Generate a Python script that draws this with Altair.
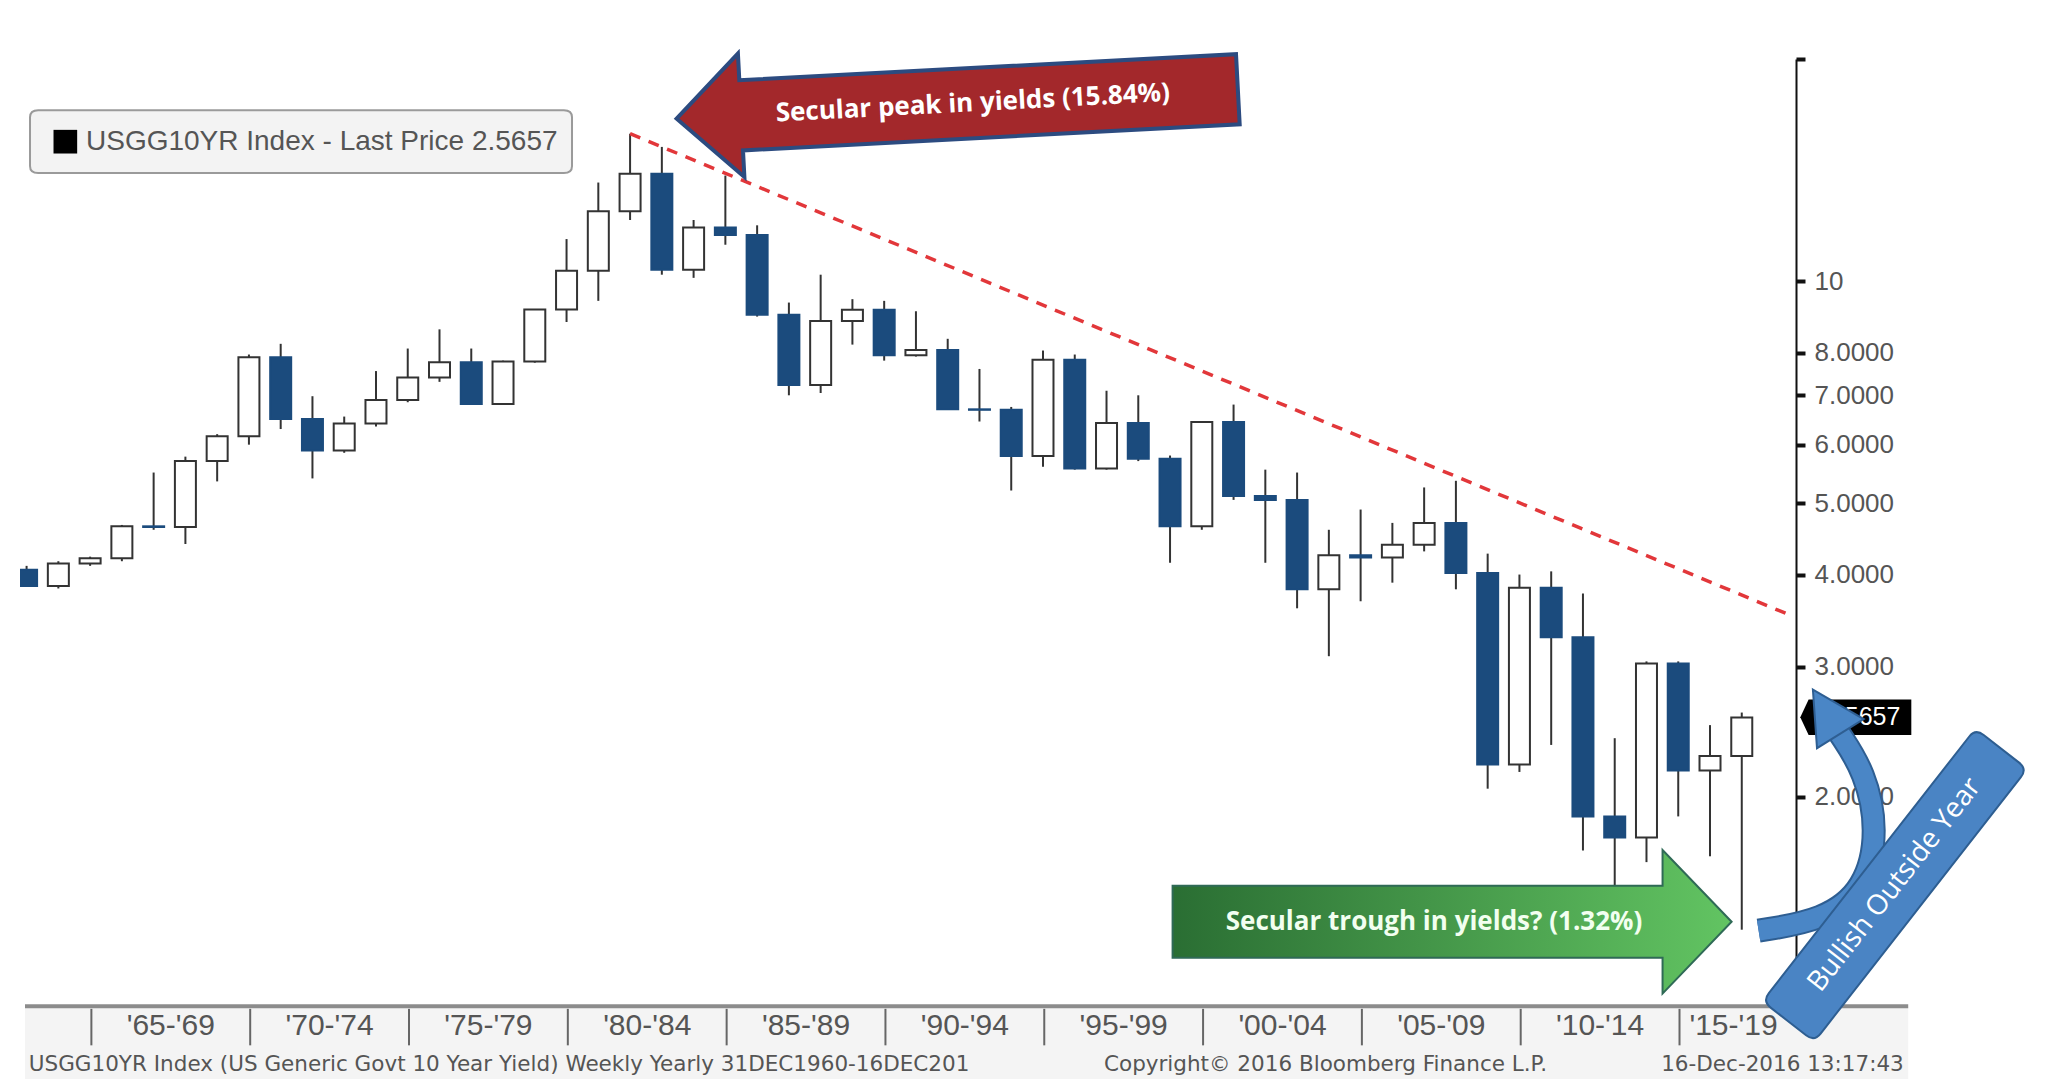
"Yearly candlestick chart of the US 10 year yield with Bloomberg style annotations"

import numpy as np
import pandas as pd
import altair as alt

# yearly OHLC (log scale)
years = list(range(1962, 2017))
opens = [4.06, 3.86, 4.14, 4.21, 4.65, 4.64, 5.70, 6.16, 7.88, 6.50,
         5.89, 6.41, 6.90, 7.40, 7.76, 6.81, 7.78, 9.15, 10.33, 12.43,
         13.98, 10.36, 11.82, 11.55, 9.00, 7.23, 8.83, 9.14, 7.93, 8.06,
         6.70, 6.69, 5.79, 7.82, 5.57, 6.42, 5.74, 4.65, 6.44, 5.11,
         5.05, 3.82, 4.25, 4.22, 4.39, 4.70, 4.02, 2.21, 3.84, 3.29,
         1.88, 1.76, 3.03, 2.17, 2.27]
highs = [4.11, 4.17, 4.23, 4.67, 5.50, 5.78, 6.20, 7.95, 8.22, 6.98,
         6.55, 7.55, 8.10, 8.60, 8.10, 7.80, 9.15, 11.40, 13.60, 15.84,
         15.20, 12.10, 13.90, 11.90, 9.35, 10.20, 9.45, 9.40, 9.10, 8.35,
         7.60, 6.75, 8.05, 7.95, 7.10, 7.00, 5.80, 6.45, 6.80, 5.55,
         5.50, 4.60, 4.90, 4.70, 5.25, 5.36, 4.27, 4.00, 4.04, 3.77,
         2.40, 3.05, 3.05, 2.50, 2.60]
lows = [3.85, 3.83, 4.11, 4.17, 4.60, 4.40, 5.35, 6.00, 6.30, 5.40,
        5.85, 6.35, 6.85, 7.30, 6.81, 6.80, 7.75, 8.80, 9.40, 12.10,
        10.20, 10.10, 11.20, 8.95, 7.00, 7.05, 8.20, 7.80, 7.90, 6.70,
        6.45, 5.20, 5.60, 5.55, 5.55, 5.70, 4.15, 4.60, 5.05, 4.15,
        3.60, 3.10, 3.68, 3.90, 4.30, 3.82, 2.05, 2.16, 2.35, 1.69,
        1.39, 1.63, 1.88, 1.66, 1.32]
closes = [3.86, 4.14, 4.21, 4.65, 4.64, 5.70, 6.16, 7.88, 6.50, 5.89,
          6.41, 6.90, 7.40, 7.76, 6.81, 7.78, 9.15, 10.33, 12.43, 13.98,
          10.36, 11.82, 11.55, 9.00, 7.23, 8.83, 9.14, 7.93, 8.06, 6.70,
          6.69, 5.79, 7.82, 5.57, 6.42, 5.74, 4.65, 6.44, 5.11, 5.05,
          3.82, 4.25, 4.22, 4.39, 4.70, 4.02, 2.21, 3.84, 3.29, 1.88,
          1.76, 3.03, 2.17, 2.27, 2.56]

y_ticks = [2, 3, 4, 5, 6, 7, 8, 10, 20]
period_starts = [1965, 1970, 1975, 1980, 1985, 1990, 1995, 2000, 2005, 2010, 2015]
period_labels = ["'65-'69", "'70-'74", "'75-'79", "'80-'84", "'85-'89", "'90-'94",
                 "'95-'99", "'00-'04", "'05-'09", "'10-'14", "'15-'19"]
period_centers = [1967.5, 1972.5, 1977.5, 1982.5, 1987.5, 1992.5,
                  1997.5, 2002.5, 2007.5, 2012.5, 2016.7]

# trend line through the secular peak
trend_t = [1981.96, 2018.51]
trend_v = [15.84, 3.52]

# curved "bullish" arrow path
curve_t = [2017.49, 2019.53, 2020.84, 2021.25, 2020.84, 2020.02]
curve_v = [1.316, 1.359, 1.498, 1.799, 2.160, 2.441]

footer_t = [1963.03, 1996.88, 2022.06]
footer_align = ["left", "left", "right"]
footer_text = ["USGG10YR Index (US Generic Govt 10 Year Yield) Weekly  Yearly 31DEC1960-16DEC201",
               "Copyright\u00a9 2016 Bloomberg Finance L.P.", "16-Dec-2016 13:17:43"]

BLUE = "#1b4b7d"
FONT = "Liberation Sans"

candles = pd.DataFrame({"year": years, "open": opens, "high": highs,
                        "low": lows, "close": closes})
candles["t"] = candles["year"] + 0.96   # bars sit at the year-end date
candles["dir"] = np.where(candles["close"] >= candles["open"], "up", "down")

x_scale = alt.Scale(domain=[1962.91, 2018.51], nice=False, zero=False)
y_scale = alt.Scale(type="log", domain=[1.05, 20], nice=False)
y_axis = alt.Axis(
    orient="right", values=y_ticks, title=None, grid=False,
    labelExpr="datum.value >= 20 ? '' : datum.value == 10 ? '10' : format(datum.value, '.4f')",
    labelOverlap=False, labelFont=FONT, labelFontSize=26, labelColor="#555555",
    labelPadding=9, domainColor="#111111", domainWidth=2,
    tickColor="#111111", tickSize=9, tickWidth=4)


def pos(t, v):
    return pd.DataFrame({"t": [t], "v": [v]})


def xy(data, **kw):
    return alt.Chart(data).encode(
        x=alt.X("t:Q", scale=x_scale, axis=None),
        y=alt.Y("v:Q", scale=y_scale, axis=y_axis), **kw)


wicks = alt.Chart(candles).mark_rule(color="#333333", strokeWidth=2, clip=True).encode(
    x=alt.X("t:Q", scale=x_scale, axis=None),
    y=alt.Y("low:Q", scale=y_scale, axis=y_axis),
    y2="high:Q")

bodies = alt.Chart(candles).mark_bar(size=21, strokeWidth=2, clip=True).encode(
    x=alt.X("t:Q", scale=x_scale, axis=None),
    y=alt.Y("open:Q", scale=y_scale, axis=y_axis),
    y2="close:Q",
    fill=alt.Fill("dir:N", scale=alt.Scale(domain=["up", "down"], range=["white", BLUE]), legend=None),
    stroke=alt.Stroke("dir:N", scale=alt.Scale(domain=["up", "down"], range=["#333333", BLUE]), legend=None))

trend = xy(pd.DataFrame({"t": trend_t, "v": trend_v})).mark_line(
    color="#e2373a", strokeDash=[11, 9], strokeWidth=3.5)

# bottom period band
band = alt.Chart(pd.DataFrame({"t": [1962.91], "t2": [2022.2], "v": [1.039], "v2": [0.80]})).mark_rect(
    color="#f4f4f4").encode(
    x=alt.X("t:Q", scale=x_scale, axis=None), x2="t2:Q",
    y=alt.Y("v:Q", scale=y_scale, axis=y_axis), y2="v2:Q")
band_line = alt.Chart(pd.DataFrame({"t": [1962.91], "t2": [2022.2], "v": [1.039]})).mark_rule(
    color="#8c8c8c", strokeWidth=4).encode(
    x=alt.X("t:Q", scale=x_scale, axis=None), x2="t2:Q",
    y=alt.Y("v:Q", scale=y_scale, axis=y_axis))
sep_df = pd.DataFrame({"t": period_starts})
sep_df["v"] = 1.031
sep_df["v2"] = 0.92
separators = alt.Chart(sep_df).mark_rule(color="#666666", strokeWidth=2).encode(
    x=alt.X("t:Q", scale=x_scale, axis=None),
    y=alt.Y("v:Q", scale=y_scale, axis=y_axis), y2="v2:Q")
period_text = xy(pd.DataFrame({"t": period_centers, "v": [0.978] * len(period_centers),
                               "label": period_labels})).mark_text(
    font=FONT, fontSize=30, color="#555555").encode(text="label:N")

footers = [
    xy(pos(t, 0.866)).mark_text(font="DejaVu Sans", fontSize=21.5, color="#555555", align=a, text=s)
    for t, a, s in zip(footer_t, footer_align, footer_text)]

# legend box
legend_box = xy(pos(1971.60, 15.45)).mark_point(
    shape="M -0.97 -0.116 L 0.97 -0.116 Q 1 -0.116 1 -0.09 L 1 0.09 Q 1 0.116 0.97 0.116 "
          "L -0.97 0.116 Q -1 0.116 -1 0.09 L -1 -0.09 Q -1 -0.116 -0.97 -0.116 Z",
    size=542 ** 2, filled=True, fill="#f3f3f3", stroke="#9a9a9a", strokeWidth=2, opacity=1)
legend_sq = xy(pos(1964.18, 15.45)).mark_point(shape="square", size=560, filled=True,
                                               color="black", opacity=1)
legend_text = xy(pos(1964.83, 15.45)).mark_text(
    text="USGG10YR Index - Last Price 2.5657", align="left", baseline="middle",
    font=FONT, fontSize=28, color="#555555")

# red arrow
red_arrow = xy(pos(1992.26, 17.38)).mark_point(
    shape="M -1 0 L -0.77 -0.22 L -0.77 -0.125 L 1 -0.125 L 1 0.125 L -0.77 0.125 L -0.77 0.22 Z",
    size=562 ** 2, angle=357, filled=True, fill="#a3282b", stroke="#2c4b80",
    strokeWidth=4, opacity=1)
red_text = xy(pos(1992.75, 17.42)).mark_text(
    text="Secular peak in yields (15.84%)", angle=357, font="Open Sans", fontWeight="bold",
    fontSize=26, color="white")

# green arrow
green_arrow = xy(pos(2007.84, 1.353)).mark_point(
    shape="M 1 0 L 0.753 -0.257 L 0.753 -0.129 L -1 -0.129 L -1 0.129 L 0.753 0.129 L 0.753 0.257 Z",
    size=559 ** 2, filled=True,
    fill=alt.LinearGradient(gradient="linear", x1=0, x2=1, y1=0, y2=0,
                            stops=[alt.GradientStop(color="#2a6e33", offset=0),
                                   alt.GradientStop(color="#62c462", offset=1)]),
    stroke="#2f6a56", strokeWidth=2, opacity=1)
green_text = xy(pos(2007.27, 1.352)).mark_text(
    text="Secular trough in yields? (1.32%)", font="Open Sans", fontWeight="bold",
    fontSize=26, color="#f2fff0")

# last price tag
price_tag = xy(pos(2020.55, 2.563)).mark_point(
    shape="M -1 0 L -0.85 -0.32 L 1 -0.32 L 1 0.32 L -0.85 0.32 Z",
    size=111 ** 2, filled=True, color="black", opacity=1)
price_text = xy(pos(2020.75, 2.563)).mark_text(
    text="2.5657", font=FONT, fontSize=25, color="white")

# curved blue arrow and the rotated box
curve_df = pd.DataFrame({"t": curve_t, "v": curve_v, "i": range(len(curve_t))})
curve_edge = xy(curve_df, order="i:Q").mark_line(
    interpolate="basis", strokeWidth=24, color="#2e5e92", strokeCap="butt")
curve = xy(curve_df, order="i:Q").mark_line(
    interpolate="basis", strokeWidth=20, color="#4a86c6", strokeCap="butt")
curve_head = xy(pos(2019.74, 2.563)).mark_point(
    shape="M 0 -1 L 0.85 0.6 L -0.85 0.6 Z", size=4200, angle=328, filled=True,
    fill="#4a86c6", stroke="#2e5e92", strokeWidth=2, opacity=1)
blue_box = xy(pos(2021.78, 1.517)).mark_point(
    shape="M -0.94 -0.19 L 0.94 -0.19 Q 1 -0.19 1 -0.13 L 1 0.13 Q 1 0.19 0.94 0.19 "
          "L -0.94 0.19 Q -1 0.19 -1 0.13 L -1 -0.13 Q -1 -0.19 -0.94 -0.19 Z",
    size=346 ** 2, angle=308, filled=True, fill="#4a84c4", stroke="#2e5e91",
    strokeWidth=2, opacity=1)
blue_text = xy(pos(2021.78, 1.517)).mark_text(
    text="Bullish Outside Year", angle=308, font="Open Sans", fontSize=28, color="white")

chart = alt.layer(
    wicks, bodies, band, band_line, separators, period_text, *footers, trend,
    legend_box, legend_sq, legend_text,
    red_arrow, red_text, green_arrow, green_text,
    price_tag, price_text, curve_edge, curve, curve_head, blue_box, blue_text,
).properties(
    width=1776, height=944,
    autosize=alt.AutoSizeParams(type="none"),
    padding={"left": 12, "top": 51, "right": 240, "bottom": 76},
).configure(font=FONT).configure_view(stroke=None)

chart.save("out.html", embed_options={"renderer": "svg", "actions": False})
